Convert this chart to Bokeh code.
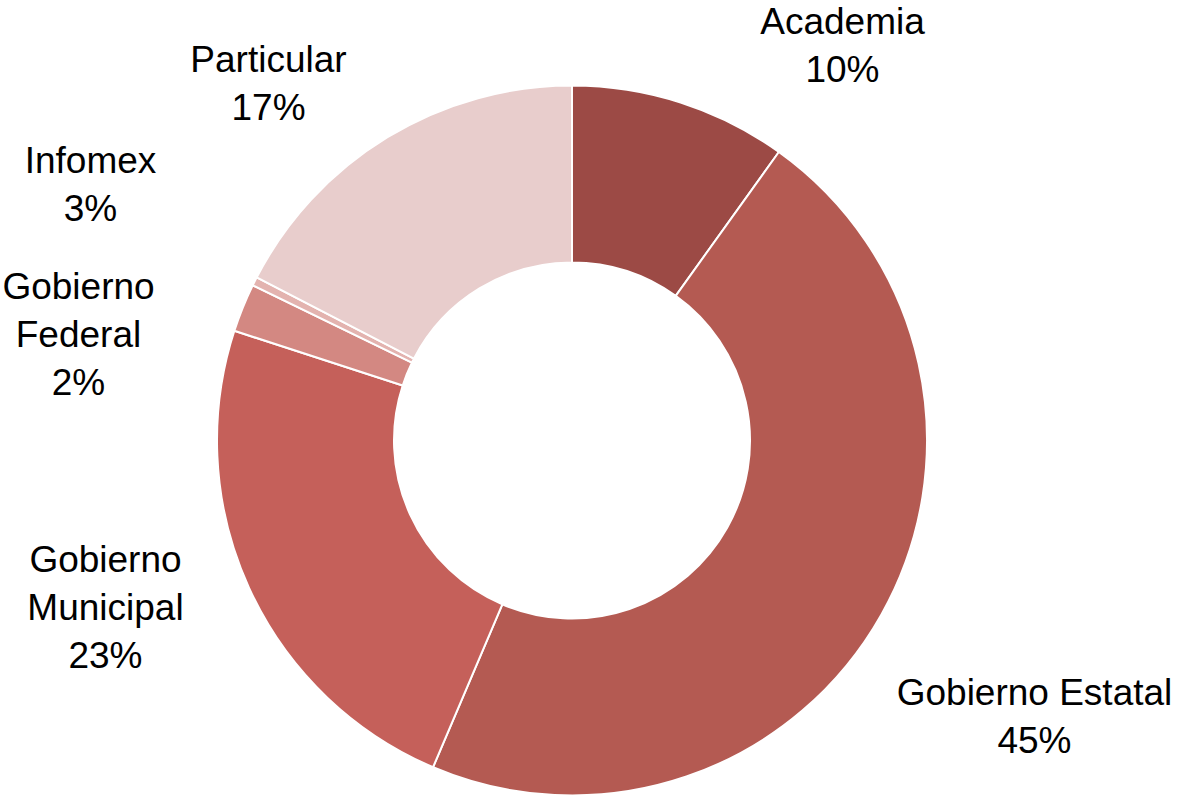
import math
from bokeh.plotting import figure
from bokeh.models import ColumnDataSource, Range1d
from bokeh.core.properties import value
from bokeh.embed import file_html
from bokeh.resources import INLINE

# ---- data ----
categories = ["Academia", "Gobierno Estatal", "Gobierno Municipal",
              "Gobierno Federal", "Infomex", "Particular"]
shares = [9.9, 46.5, 23.6, 2.2, 0.4, 17.4]          # slice sizes (percent of the ring)
pct_labels = ["10%", "45%", "23%", "2%", "3%", "17%"]  # labels as printed
label_names = ["Academia", "Gobierno Estatal", "Gobierno\nMunicipal",
               "Gobierno\nFederal", "Infomex", "Particular"]
colors = ["#9C4A45", "#B45A52", "#C5605A", "#D38882", "#E3B3AF", "#E8CDCC"]

# ---- layout ----
W, H = 1172, 796
CX, CY = 571.5, H - 440.0
R_OUT, R_IN = 355, 178
# label centres (x, y) in screen pixels from the top-left
label_pos_screen = [(842, 45), (1034, 716), (105, 607), (78, 334), (90, 184), (268, 83)]

total = sum(shares)
starts, ends = [], []
cum = 0.0
for s in shares:
    starts.append(math.pi / 2 - 2 * math.pi * cum / total)
    cum += s
    ends.append(math.pi / 2 - 2 * math.pi * cum / total)

src = ColumnDataSource(dict(cat=categories, start=starts, end=ends, color=colors))

p = figure(width=W, height=H, output_backend="svg", toolbar_location=None,
           x_range=Range1d(0, W), y_range=Range1d(0, H),
           min_border=0, outline_line_color=None)
p.axis.visible = False
p.grid.visible = False
p.background_fill_color = "white"
p.border_fill_color = "white"

p.annular_wedge(x=CX, y=CY, inner_radius=R_IN, outer_radius=R_OUT,
                start_angle="start", end_angle="end", direction="clock",
                fill_color="color", line_color="white", line_width=2, source=src)

texts = [f"{n}\n{pc}" for n, pc in zip(label_names, pct_labels)]
lsrc = ColumnDataSource(dict(x=[a for a, b in label_pos_screen],
                             y=[H - b for a, b in label_pos_screen], t=texts))
p.text(x="x", y="y", text="t", source=lsrc, text_align="center", text_baseline="middle",
       text_font=value("Liberation Sans"), text_font_size="37px", text_color="black",
       text_line_height=1.17)

open("out.html", "w").write(file_html(p, INLINE))
